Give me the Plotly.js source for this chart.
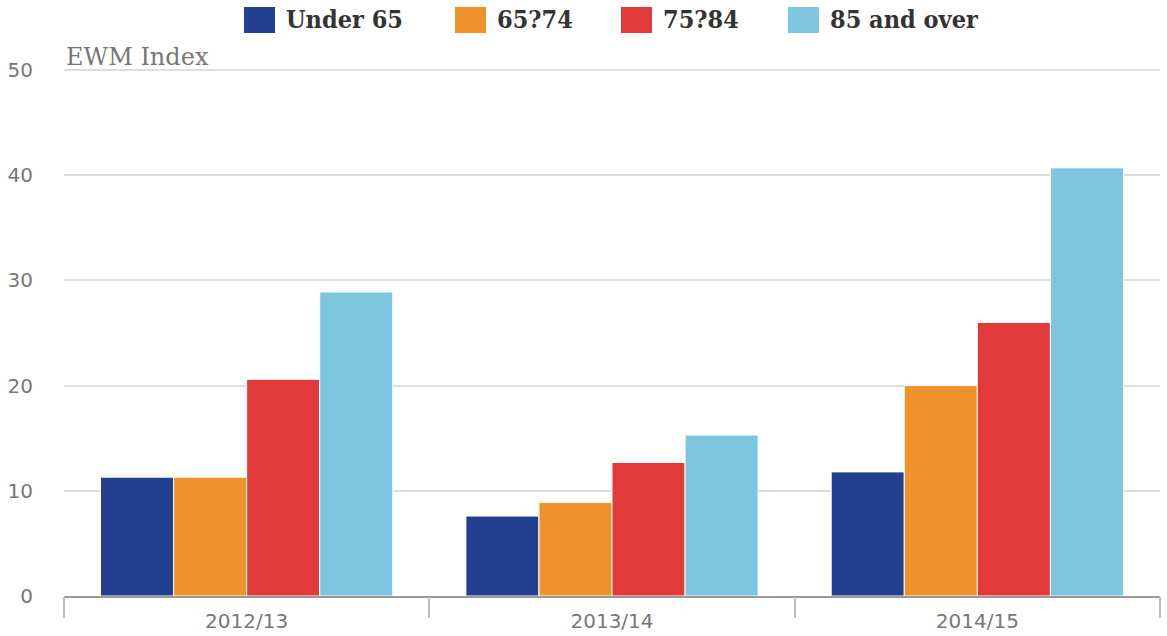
<!DOCTYPE html>
<html><head><meta charset="utf-8">
<script src="https://cdn.plot.ly/plotly-3.0.1.min.js"></script>
<style>html,body{margin:0;padding:0;background:#fff}#chart{width:1167px;height:636px}</style>
</head><body><div id="chart"></div>
<script>
var categories = ['2012/13', '2013/14', '2014/15'];
var seriesNames = ['Under 65', '65?74', '75?84', '85 and over'];
var under65 = [11.3, 7.6, 11.8];
var age65to74 = [11.3, 8.9, 20.0];
var age75to84 = [20.6, 12.7, 26.0];
var age85plus = [28.9, 15.3, 40.7];
var yTicks = [0, 10, 20, 30, 40, 50];
var yTitle = 'EWM Index';
var colors = ['#233f8f', '#f0922b', '#e03a3a', '#7ec6df'];
var seriesValues = [under65, age65to74, age75to84, age85plus];

var traces = seriesValues.map(function (vals, i) {
  return {
    type: 'bar', x: categories, y: vals, name: seriesNames[i],
    marker: {color: colors[i], line: {color: '#ffffff', width: 1}},
    showlegend: false, hoverinfo: 'x+y+name'
  };
});
traces.push({type: 'scatter', x: [-0.5], y: [0], xaxis: 'x2', mode: 'markers',
  marker: {opacity: 0}, showlegend: false, hoverinfo: 'skip'});

var PH = 527, PW = 1096, TOP = 69;
var shapes = [], annotations = [];
var legX = [244, 455, 621, 788];
seriesNames.forEach(function (n, i) {
  shapes.push({type: 'rect', xref: 'paper', yref: 'paper',
    x0: (legX[i] - 64) / PW, x1: (legX[i] + 31 - 64) / PW,
    y0: (TOP + PH - 33) / PH, y1: (TOP + PH - 7) / PH,
    fillcolor: colors[i], line: {width: 0}});
  annotations.push({xref: 'paper', yref: 'paper', x: (legX[i] + 40 - 64) / PW,
    y: (TOP + PH - 20) / PH, xanchor: 'left', yanchor: 'middle', showarrow: false,
    text: '<b>' + n + '</b>',
    font: {family: 'DejaVu Serif Condensed, DejaVu Serif', size: 25, color: '#333'}});
});
annotations.push({xref: 'paper', yref: 'y', x: 0, y: 50, xanchor: 'left', yanchor: 'bottom',
  xshift: 0, yshift: -3, showarrow: false, text: yTitle,
  font: {family: 'DejaVu Serif', size: 24, color: '#777'}});

var layout = {
  width: 1167, height: 636,
  margin: {l: 64, r: 7, t: TOP, b: 40},
  paper_bgcolor: '#fff', plot_bgcolor: '#fff',
  barmode: 'group', bargap: 0.2, bargroupgap: 0,
  xaxis: {type: 'category', range: [-0.5, 2.5], showgrid: false, ticks: '',
    tickfont: {family: 'DejaVu Sans', size: 20, color: '#777'},
    showline: true, linecolor: '#999', linewidth: 2, zeroline: false,
    ticklabelstandoff: 6},
  xaxis2: {overlaying: 'x', range: [-0.5, 2.5], tickvals: [-0.5, 0.5, 1.5, 2.5],
    ticks: 'outside', ticklen: 21, tickcolor: '#bbb', tickwidth: 2,
    showticklabels: false, showgrid: false, zeroline: false, side: 'bottom'},
  yaxis: {range: [0, 50.1], tickvals: yTicks, showgrid: true, gridcolor: '#ddd', gridwidth: 2,
    zeroline: false, showline: false, ticks: '',
    tickfont: {family: 'DejaVu Sans', size: 20, color: '#777'},
    ticklabelstandoff: 30},
  shapes: shapes,
  annotations: annotations
};
Plotly.newPlot('chart', traces, layout, {displayModeBar: false, staticPlot: true});
</script></body></html>
